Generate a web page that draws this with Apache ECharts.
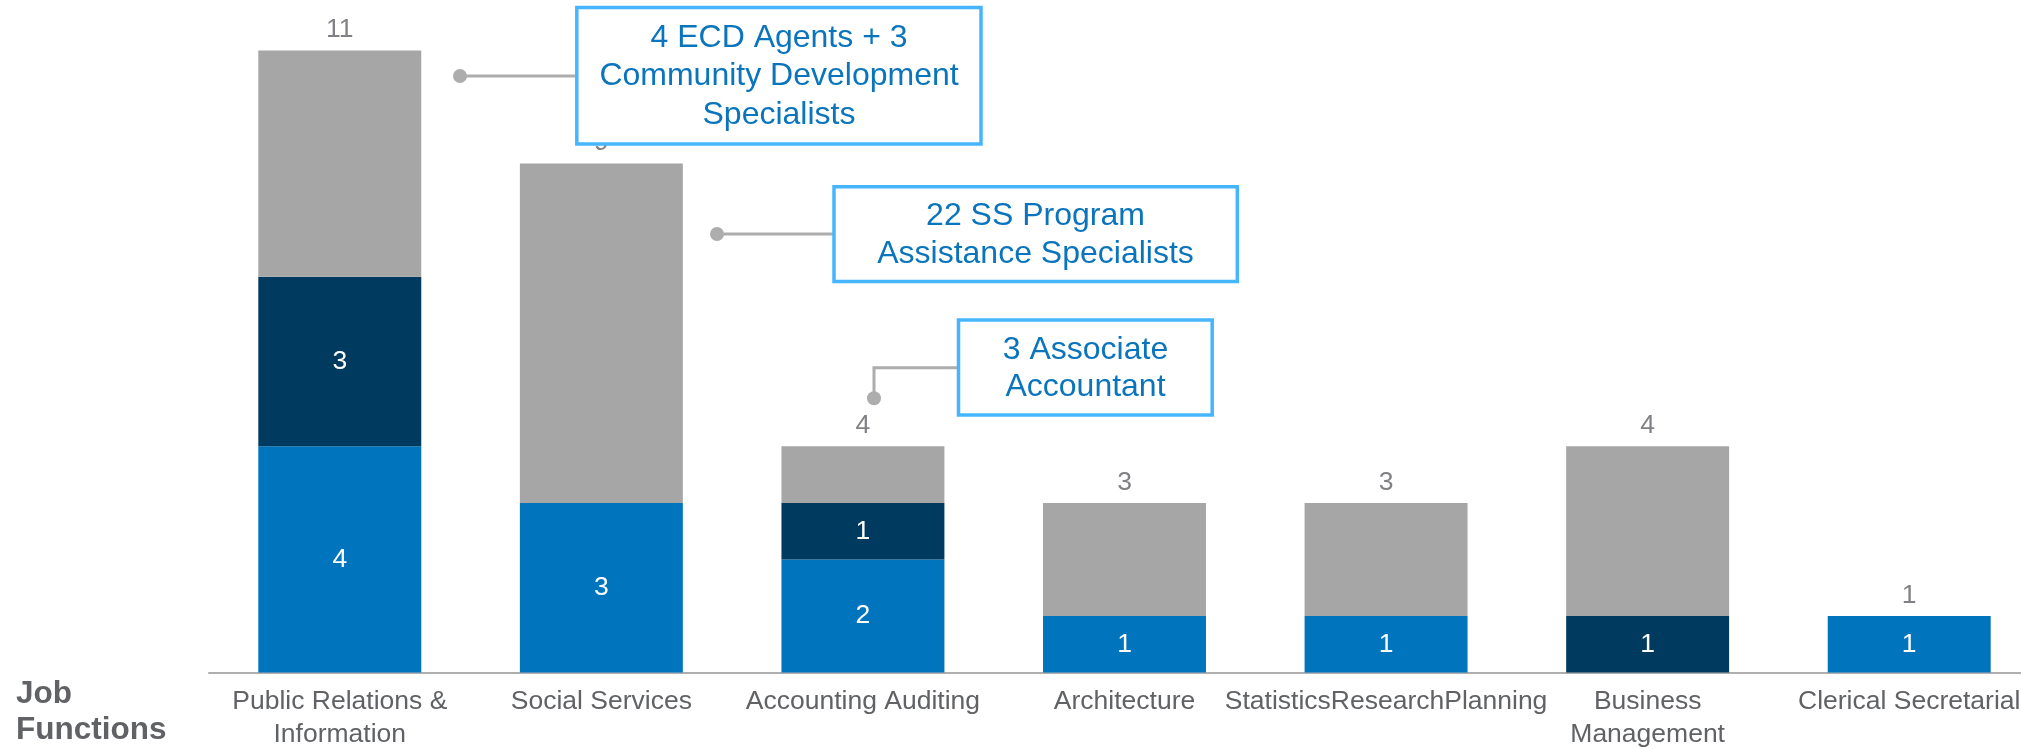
<!DOCTYPE html>
<html>
<head>
<meta charset="utf-8">
<script src="https://cdn.jsdelivr.net/npm/echarts@6/dist/echarts.min.js"></script>
<style>
html,body{margin:0;padding:0;background:#fff;}
#chart{width:2021px;height:749px;}
</style>
</head>
<body>
<div id="chart"></div>
<script>
const categories = ['Public Relations &\nInformation', 'Social Services', 'Accounting Auditing', 'Architecture', 'StatisticsResearchPlanning', 'Business\nManagement', 'Clerical Secretarial'];
const blueValues = [4, 3, 2, 1, 1, 0, 1];
const navyValues = [3, 0, 1, 0, 0, 1, 0];
const grayValues = [4, 6, 1, 2, 2, 3, 0];
const totals = [11, 9, 4, 3, 3, 4, 1];
const axisTitle = 'Job\nFunctions';
const callouts = [
  { text: '4 ECD Agents + 3\nCommunity Development\nSpecialists' },
  { text: '22 SS Program\nAssistance Specialists' },
  { text: '3 Associate\nAccountant' }
];

const FONT = '"Liberation Sans", Arial, sans-serif';
const BLUE = '#0075BE';
const NAVY = '#003A5E';
const GRAY = '#A6A6A6';
const TEXT_GRAY = '#606265';
const BOX = '#45B6FE';
const CALLOUT_TEXT = '#0A74BC';
const CONNECT = '#ADADAD';

const chart = echarts.init(document.getElementById('chart'), null, { renderer: 'canvas' });

const inLabel = {
  show: true, position: 'inside', color: '#fff', fontSize: 26.5, fontFamily: FONT,
  formatter: p => (p.value ? String(p.value) : '')
};

function box(x, y, w, h) {
  return { type: 'rect', z: 100, shape: { x, y, width: w, height: h },
    style: { fill: '#fff', stroke: BOX, lineWidth: 3.5 } };
}
function btext(x, y, t, lh) {
  return { type: 'text', z: 101, x, y,
    style: { text: t, fill: CALLOUT_TEXT, font: '32px ' + FONT, align: 'center', verticalAlign: 'middle', lineHeight: lh } };
}
function dot(x, y) {
  return { type: 'circle', z: 99, shape: { cx: x, cy: y, r: 7 }, style: { fill: CONNECT } };
}
function line(points) {
  return { type: 'polyline', z: 99, shape: { points }, style: { stroke: CONNECT, lineWidth: 3, fill: null } };
}

chart.setOption({
  animation: false,
  backgroundColor: '#fff',
  grid: { left: 209, top: 50.4, width: 1831, height: 622.2, outerBoundsMode: 'none', containLabel: false },
  xAxis: {
    type: 'category', data: categories,
    axisTick: { show: false },
    axisLine: { lineStyle: { color: '#AFAFAF', width: 2 } },
    axisLabel: { interval: 0, fontSize: 26.5, color: TEXT_GRAY, fontFamily: FONT, margin: 13, lineHeight: 33 }
  },
  yAxis: { type: 'value', min: 0, max: 11, show: false, splitLine: { show: false } },
  series: [
    { name: 'Blue', type: 'bar', stack: 'a', data: blueValues, barCategoryGap: '37.7%',
      itemStyle: { color: BLUE }, label: inLabel },
    { name: 'Navy', type: 'bar', stack: 'a', data: navyValues,
      itemStyle: { color: NAVY }, label: inLabel },
    { name: 'Gray', type: 'bar', stack: 'a', data: grayValues,
      itemStyle: { color: GRAY }, label: { show: false } },
    { name: 'Total', type: 'scatter', data: totals, symbolSize: 0, z: 5,
      label: { show: true, position: 'top', distance: 7, color: TEXT_GRAY, fontSize: 26.5, fontFamily: FONT,
        formatter: p => String(p.value) } }
  ],
  graphic: [
    { type: 'text', left: 16, top: 676, z: 50,
      style: { text: axisTitle, fill: TEXT_GRAY, font: 'bold 31.5px ' + FONT, lineHeight: 36 } },
    line([[460, 76], [576, 76]]), dot(460, 76),
    line([[717, 234], [833, 234]]), dot(717, 234),
    line([[958, 367.7], [874, 367.7], [874, 398.3]]), dot(874, 398.3),
    box(576.8, 7.5, 404.2, 136.4), btext(779, 76.5, callouts[0].text, 38.5),
    box(834, 186.8, 403.3, 94.8), btext(1035.5, 235, callouts[1].text, 38),
    box(958.5, 320, 253.7, 94.9), btext(1085.5, 368.5, callouts[2].text, 37.5)
  ]
});
</script>
</body>
</html>
